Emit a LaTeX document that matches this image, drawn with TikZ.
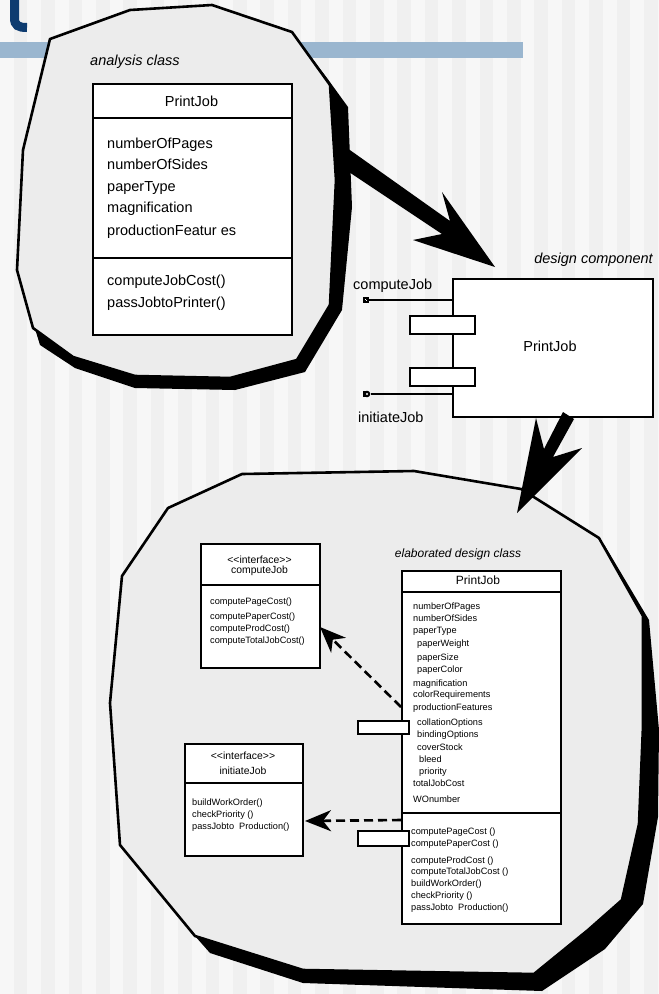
\documentclass[tikz,border=0pt]{standalone}
\usepackage{fontspec}
\setmainfont{Liberation Sans}
\usetikzlibrary{arrows.meta}
\definecolor{bgL}{RGB}{247,247,247}
\definecolor{bgD}{RGB}{240,240,240}
\definecolor{barblue}{RGB}{154,182,207}
\definecolor{titleblue}{RGB}{14,60,112}
\definecolor{blobfill}{RGB}{236,236,236}
\newcommand\fszA{\fontsize{14.5}{17}\selectfont}
\newcommand\fszB{\fontsize{12}{14}\selectfont}
\newcommand\fszC{\fontsize{10.4}{12}\selectfont}
\newcommand\fszD{\fontsize{9.2}{11}\selectfont}
\begin{document}
\begin{tikzpicture}[x=1pt,y=-1pt,
  lbl/.style={inner sep=0pt, anchor=base west},
  lblc/.style={inner sep=0pt, anchor=base},
  lblr/.style={inner sep=0pt, anchor=base east},
  cbox/.style={draw=black, line width=2.1pt, fill=white, inner sep=0pt, anchor=north west},
  portbox/.style={draw=black, line width=2.2pt, fill=white, inner sep=0pt, anchor=north west},
  blob/.style={draw=black, line width=2.6pt, line join=round, fill=blobfill},
  dasharrow/.style={line width=2.6pt, dash pattern=on 9pt off 5pt, -{Stealth[length=26pt,width=21pt,inset=8pt]}},
  conn/.style={line width=1.6pt},
  sepline/.style={line width=2.1pt},
]
\useasboundingbox (0,0) rectangle (659,994);
% background stripes
\fill[bgL] (0,0) rectangle (659,994);
\foreach \i in {1,3,...,47} {\fill[bgD] ({\i*13.7},0) rectangle ({(\i+1)*13.7},994);}
% title remnant and bar
\fill[barblue] (0,42) rectangle (523,58);
\draw[titleblue, line width=9pt] (14.5,-5) -- (14.5,18) .. controls (14.5,25.5) and (18,27.5) .. (27,27.5);

% ---------- top blob ----------
\fill[black] (50,39) -- (130,10) -- (212,5) -- (292,32) -- (327,78) -- (348,107) -- (352,207) -- (342,310) -- (305,372) -- (235,390) -- (135,388) -- (75,368) -- (40,345) -- (17,270) -- (23,150) -- cycle;
\filldraw[blob] (50,39) -- (130,10) -- (212,5) -- (292,32) -- (330,85) -- (336,180) -- (330,305) -- (297,360) -- (230,378) -- (135,376) -- (73,357) -- (33,328) -- (17,270) -- (23,150) -- cycle;

\node[lbl, font=\fszA\itshape] (lblAnalysis) at (90,65) {analysis class};
\node[cbox, minimum width=199pt, minimum height=251pt] (acBox) at (92,83) {};
\draw[sepline] (92,118) -- (291,118);
\draw[sepline] (92,258) -- (291,258);
\node[lblc, font=\fszA] (acName) at (191.5,106) {PrintJob};
\node[lbl, font=\fszA] (acA1) at (107,148) {numberOfPages};
\node[lbl, font=\fszA] (acA2) at (107,169) {numberOfSides};
\node[lbl, font=\fszA] (acA3) at (107,191) {paperType};
\node[lbl, font=\fszA] (acA4) at (107,212) {magnification};
\node[lbl, font=\fszA] (acA5) at (107,235) {productionFeatur es};
\node[lbl, font=\fszA] (acM1) at (107,285) {computeJobCost()};
\node[lbl, font=\fszA] (acM2) at (107,307) {passJobtoPrinter()};

% big arrow 1
\fill[black] (340,143) -- (450,221) -- (442,192) -- (495,267) -- (413,240) -- (442,234) -- (340,166) -- cycle;

% ---------- design component ----------
\node[lblr, font=\fszA\itshape] (lblDesign) at (653,263) {design component};
\node[draw=black, line width=2.2pt, fill=white, inner sep=0pt, anchor=north west, minimum width=200pt, minimum height=138pt] (dc) at (452,278) {};
\node[lblc, font=\fszA] (dcName) at (550,351) {PrintJob};
\node[portbox, minimum width=65pt, minimum height=18pt] (dcPortA) at (409,315) {};
\node[portbox, minimum width=65pt, minimum height=18pt] (dcPortB) at (409,367) {};
\node[fill=black, minimum size=6.5pt, inner sep=0pt] (termA) at (366,300) {};
\fill[white] (termA.center) rectangle +(1.2,1.2);
\fill[white] (termA.center) rectangle +(-1.2,-1.2);
\draw[conn] (termA.east) -- (termA -| dc.west);
\fill[black] (363,391) rectangle (367,397);
\node[fill=black, circle, minimum size=6.6pt, inner sep=0pt] (termB) at (367,394) {};
\fill[white] (termB.center) circle (1.1pt);
\draw[conn] (termB.east) -- (termB -| dc.west);
\node[lbl, font=\fszA] (lblCJ) at (353,289) {computeJob};
\node[lbl, font=\fszA] (lblIJ) at (358,422) {initiateJob};

% ---------- bottom blob ----------
\fill[black] (242,474) -- (414,471) -- (521,489) -- (599,538) -- (605,546) -- (649,620) -- (659,730) -- (658,817) -- (643,904) -- (605,949) -- (542,991) -- (303,983) -- (210,953) -- (195,936) -- (120,845) -- (110,703) -- (122,576) -- (168,508) -- cycle;
\filldraw[blob] (242,474) -- (414,471) -- (521,489) -- (599,538) -- (643,616) -- (643,726) -- (639,824) -- (622,900) -- (588,930) -- (534,974) -- (303,970) -- (195,936) -- (120,845) -- (110,703) -- (122,576) -- (168,508) -- cycle;

% big arrow 2
\fill[black] (563,412) -- (544,449) -- (536,418) -- (517,513) -- (582,448) -- (553,457) -- (574,419) -- cycle;

% interface computeJob
\node[cbox, minimum width=119pt, minimum height=124pt] (cj) at (200,543) {};
\draw[sepline] (200,585) -- (319,585);
\node[lblc, font=\fszC] (cjSt) at (259.5,563) {<\kern0pt<interface>\kern0pt>};
\node[lblc, font=\fszC] (cjName) at (259.5,573) {computeJob};
\node[lbl, font=\fszD] (cjM1) at (210,604) {computePageCost()};
\node[lbl, font=\fszD] (cjM2) at (210,619) {computePaperCost()};
\node[lbl, font=\fszD] (cjM3) at (210,631) {computeProdCost()};
\node[lbl, font=\fszD] (cjM4) at (210,643) {computeTotalJobCost()};

% interface initiateJob
\node[cbox, minimum width=118pt, minimum height=112pt] (ij) at (184,743) {};
\draw[sepline] (184,783) -- (302,783);
\node[lblc, font=\fszC] (ijSt) at (243,759) {<\kern0pt<interface>\kern0pt>};
\node[lblc, font=\fszC] (ijName) at (243,774) {initiateJob};
\node[lbl, font=\fszD] (ijM1) at (192,805) {buildWorkOrder()};
\node[lbl, font=\fszD] (ijM2) at (192,817) {checkPriority ()};
\node[lbl, font=\fszD] (ijM3) at (192,829) {passJobto\ \ Production()};

% elaborated design class
\node[lblc, font=\fszB\itshape] (lblElab) at (458,557) {elaborated design class};
\node[cbox, line width=2.2pt, minimum width=159pt, minimum height=353pt] (ep) at (401,570) {};
\draw[sepline] (401,592) -- (560,592);
\draw[sepline] (401,813) -- (560,813);
\node[lblc, font=\fszB] (epName) at (478,584) {PrintJob};
\node[lbl, font=\fszD] (epA1) at (413,609.5) {numberOfPages};
\node[lbl, font=\fszD] (epA2) at (413,621.5) {numberOfSides};
\node[lbl, font=\fszD] (epA3) at (413,633.5) {paperType};
\node[lbl, font=\fszD] (epA4) at (417,646.5) {paperWeight};
\node[lbl, font=\fszD] (epA5) at (417,660.5) {paperSize};
\node[lbl, font=\fszD] (epA6) at (417,672.5) {paperColor};
\node[lbl, font=\fszD] (epA7) at (413,686.5) {magnification};
\node[lbl, font=\fszD] (epA8) at (413,697.5) {colorRequirements};
\node[lbl, font=\fszD] (epA9) at (413,710.5) {productionFeatures};
\node[lbl, font=\fszD] (epA10) at (417,725.5) {collationOptions};
\node[lbl, font=\fszD] (epA11) at (417,737.5) {bindingOptions};
\node[lbl, font=\fszD] (epA12) at (417,750.5) {coverStock};
\node[lbl, font=\fszD] (epA13) at (419,762.5) {bleed};
\node[lbl, font=\fszD] (epA14) at (419,774.5) {priority};
\node[lbl, font=\fszD] (epA15) at (413,786.5) {totalJobCost};
\node[lbl, font=\fszD] (epA16) at (413,802.5) {WOnumber};
\node[lbl, font=\fszD] (epM1) at (411,834.5) {computePageCost ()};
\node[lbl, font=\fszD] (epM2) at (411,846.5) {computePaperCost ()};
\node[lbl, font=\fszD] (epM3) at (411,863.5) {computeProdCost ()};
\node[lbl, font=\fszD] (epM4) at (411,874.5) {computeTotalJobCost ()};
\node[lbl, font=\fszD] (epM5) at (411,886.5) {buildWorkOrder()};
\node[lbl, font=\fszD] (epM6) at (411,898.5) {checkPriority ()};
\node[lbl, font=\fszD] (epM7) at (411,910.5) {passJobto\ \ Production()};
\node[portbox, minimum width=51pt, minimum height=13pt] (epPortA) at (357,720) {};
\node[portbox, minimum width=51pt, minimum height=15pt] (epPortB) at (357,830) {};

% dependency connectors
\coordinate (epA) at (401,707);
\coordinate (cjT) at (320,627);
\draw[dasharrow] (epA) -- (cjT);
\coordinate (epB) at (401,820);
\coordinate (ijT) at (305,821);
\draw[dasharrow] (epB) -- (ijT);
\end{tikzpicture}
\end{document}
